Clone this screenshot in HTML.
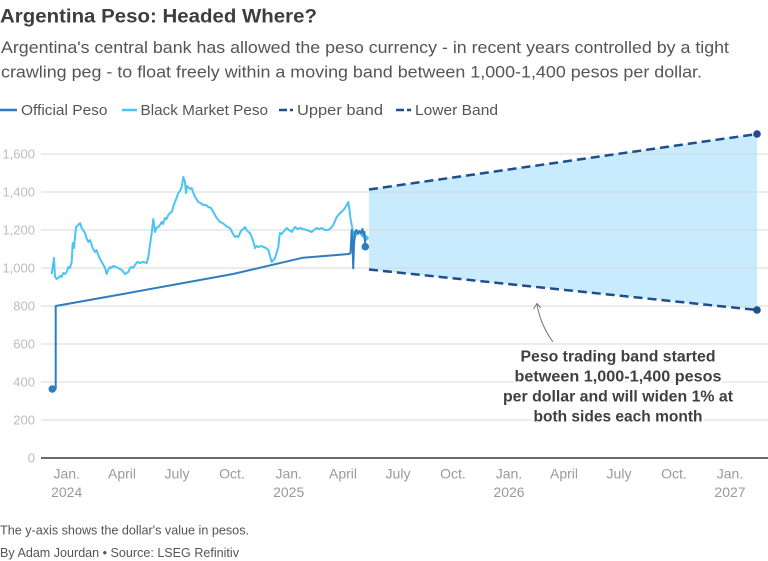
<!DOCTYPE html>
<html>
<head>
<meta charset="utf-8">
<style>
html,body{margin:0;padding:0;background:#fff;}
svg{display:block;}
text{font-family:"Liberation Sans",Arial,sans-serif;}
</style>
</head>
<body>
<svg width="768" height="561" viewBox="0 0 768 561" xmlns="http://www.w3.org/2000/svg">
  <!-- Title / subtitle -->
  <text x="0" y="22.5" font-size="19" font-weight="bold" fill="#3d3d3d" textLength="317" lengthAdjust="spacingAndGlyphs">Argentina Peso: Headed Where?</text>
  <text x="1" y="53" font-size="17" fill="#555" textLength="728" lengthAdjust="spacingAndGlyphs">Argentina's central bank has allowed the peso currency - in recent years controlled by a tight</text>
  <text x="1" y="77.5" font-size="17" fill="#555" textLength="701" lengthAdjust="spacingAndGlyphs">crawling peg - to float freely within a moving band between 1,000-1,400 pesos per dollar.</text>

  <!-- Legend -->
  <line x1="0" y1="110" x2="17" y2="110" stroke="#2f7dc1" stroke-width="2.5"/>
  <text x="21" y="115" font-size="15" fill="#555" textLength="86.5" lengthAdjust="spacingAndGlyphs">Official Peso</text>
  <line x1="122" y1="110" x2="137" y2="110" stroke="#4cc3f5" stroke-width="2.5"/>
  <text x="140.5" y="115" font-size="15" fill="#555" textLength="127.5" lengthAdjust="spacingAndGlyphs">Black Market Peso</text>
  <line x1="279" y1="110" x2="293" y2="110" stroke="#1f4e8c" stroke-width="2.5" stroke-dasharray="8,3,3,0"/>
  <text x="297" y="115" font-size="15" fill="#555" textLength="86" lengthAdjust="spacingAndGlyphs">Upper band</text>
  <line x1="396" y1="110" x2="411" y2="110" stroke="#1f4e8c" stroke-width="2.5" stroke-dasharray="8,3,3,0"/>
  <text x="415" y="115" font-size="15" fill="#555" textLength="83" lengthAdjust="spacingAndGlyphs">Lower Band</text>

  <!-- Band fill -->
  <polygon points="369,189.5 757,134 757,310 369,269.5" fill="#c8ecfd"/>

  <!-- Gridlines -->
  <g stroke="#d6d6d6" stroke-width="1" opacity="0.9">
    <line x1="41" y1="154" x2="768" y2="154"/>
    <line x1="41" y1="192" x2="768" y2="192"/>
    <line x1="41" y1="230" x2="768" y2="230"/>
    <line x1="41" y1="268" x2="768" y2="268"/>
    <line x1="41" y1="306" x2="768" y2="306"/>
    <line x1="41" y1="344" x2="768" y2="344"/>
    <line x1="41" y1="382" x2="768" y2="382"/>
    <line x1="41" y1="420" x2="768" y2="420"/>
  </g>
  <line x1="41" y1="458" x2="768" y2="458" stroke="#3a3a3a" stroke-width="1.5"/>

  <!-- Y labels -->
  <g font-size="13" fill="#bdbdbd" text-anchor="end">
    <text x="35" y="158.5">1,600</text>
    <text x="35" y="196.5">1,400</text>
    <text x="35" y="234.5">1,200</text>
    <text x="35" y="272.5">1,000</text>
    <text x="35" y="310.5">800</text>
    <text x="35" y="348.5">600</text>
    <text x="35" y="386.5">400</text>
    <text x="35" y="424.5">200</text>
    <text x="35" y="462.5">0</text>
  </g>

  <!-- X labels -->
  <g font-size="14" fill="#9a9a9a" text-anchor="middle">
    <text x="66.7" y="478.5">Jan.</text>
    <text x="66.7" y="497">2024</text>
    <text x="122" y="478.5">April</text>
    <text x="177" y="478.5">July</text>
    <text x="232" y="478.5">Oct.</text>
    <text x="288.7" y="478.5">Jan.</text>
    <text x="288.7" y="497">2025</text>
    <text x="343" y="478.5">April</text>
    <text x="398" y="478.5">July</text>
    <text x="453" y="478.5">Oct.</text>
    <text x="509" y="478.5">Jan.</text>
    <text x="509" y="497">2026</text>
    <text x="564" y="478.5">April</text>
    <text x="619" y="478.5">July</text>
    <text x="674" y="478.5">Oct.</text>
    <text x="730" y="478.5">Jan.</text>
    <text x="730" y="497">2027</text>
  </g>

  <!-- Band dashed lines -->
  <line x1="369" y1="189.5" x2="757" y2="134" stroke="#1f4e8c" stroke-width="2.5" stroke-dasharray="9,5"/>
  <line x1="369" y1="269.5" x2="757" y2="310" stroke="#1f4e8c" stroke-width="2.5" stroke-dasharray="9,5"/>
  <circle cx="757" cy="134" r="3.8" fill="#1f4e8c"/>
  <circle cx="757" cy="310" r="3.8" fill="#1f4e8c"/>

  <!-- Black market -->
  <polyline fill="none" stroke="#4cc3f5" stroke-width="2" stroke-linejoin="round" points="51.7,274 54,258 55,277 56.7,279 60,276 61.5,277 63.3,273 65,274 66.7,272 68.3,267 70,268 71.7,262 72.7,243 74,248 76,227 78.3,225 80,223 81.7,228 83,230 85,233 86.5,238 88.3,242 90,240 91.7,245 93,249 95,252 96.5,250 98.3,255 100,259 101.7,262 103.5,265 105,268 106.7,274 108,270 110,267 111.5,268 113.3,266 116,267 118.3,268 120,269 121.7,270 123.5,272 125,274 126.5,273 128.3,272 130,268 131.7,267 133,268 135,265 137.3,262 140,263 143,262 146.7,263 148.3,257 150,245 151.7,233 153.3,219 155,232 156.5,228 158.3,227 160,225 161.7,222 163,224 165,218 166.5,219 168.3,215 170,213 171.7,212 173.5,206 175,202 176.5,198 178.3,193 180,191 181.7,187 183.3,177 185,182 186,193 187,186 188.3,187 190,189 191.7,188 193,192 195,197 196.5,199 198.3,202 200.5,203 203.3,205 206,205 208.3,207 211,208 213.3,212 215,215 216.7,218 218.5,220 220,222 222.5,223 225,225 227.5,227 230,228 232.5,233 235,237 236.5,236 238.3,237 240,233 241.7,230 243.5,229 245,227 246.5,230 248.3,232 250,233 251.7,237 253.5,242 255,248 256.5,246 258.3,247 261,246 263.3,247 266,248 268.3,250 270,256 271.7,262 273.5,260 275,258 276.5,253 278.3,247 279,240 280,233 281.5,234 283.3,232 285,230 286.7,228 289,230 291.7,232 293.5,229 295,227 297.5,229 300,228 303,229 306.7,230 309,231 311.7,232 314,230 316.7,228 319,229 321.7,228 325,230 328.3,230 331,228 333.3,225 335,221 336.7,217 338.5,215 340,213 341.5,212 343.3,210 345,208 346.7,205 348.3,202 349.5,210 350.7,220 352.7,230 354,240 355.5,236 356.7,233 358.5,232 360,232 361.5,235 363.3,237 366,238"/>
  <circle cx="366" cy="238" r="2.8" fill="#4cc3f5"/>

  <!-- Official -->
  <polyline fill="none" stroke="#2f7dc1" stroke-width="2" stroke-linejoin="round" points="52,389 55.7,389 55.7,306 123,294 233,274 303,257.7 349,254 350.5,253 351.7,230 352.6,245 353.2,268.3 354,245 355,232 356.5,230 358,234 359.5,231 361,233 362.5,229 363.5,235 364.5,232 365.3,246.7"/>
  <circle cx="52.3" cy="389" r="3.8" fill="#2f7dc1"/>
  <circle cx="365.3" cy="246.7" r="3.8" fill="#2f7dc1"/>

  <!-- Annotation arrow -->
  <path d="M553,342 Q540,324 537,304" fill="none" stroke="#777" stroke-width="1"/>
  <path d="M533.5,309 L537,303.5 L541,308" fill="none" stroke="#777" stroke-width="1"/>

  <!-- Annotation text -->
  <g font-size="15.5" font-weight="bold" fill="#404040" text-anchor="middle" stroke="#fff" stroke-width="5" paint-order="stroke" stroke-linejoin="round">
    <text x="618" y="361.5" textLength="195" lengthAdjust="spacingAndGlyphs">Peso trading band started</text>
    <text x="618" y="381.5" textLength="207" lengthAdjust="spacingAndGlyphs">between 1,000-1,400 pesos</text>
    <text x="618" y="401.5" textLength="230" lengthAdjust="spacingAndGlyphs">per dollar and will widen 1% at</text>
    <text x="618" y="421.5" textLength="169" lengthAdjust="spacingAndGlyphs">both sides each month</text>
  </g>

  <!-- Footer -->
  <text x="0" y="534.5" font-size="12.5" fill="#555" textLength="249" lengthAdjust="spacingAndGlyphs">The y-axis shows the dollar's value in pesos.</text>
  <text x="0" y="557" font-size="12.5" fill="#555" textLength="239" lengthAdjust="spacingAndGlyphs">By Adam Jourdan • Source: LSEG Refinitiv</text>
</svg>
</body>
</html>
